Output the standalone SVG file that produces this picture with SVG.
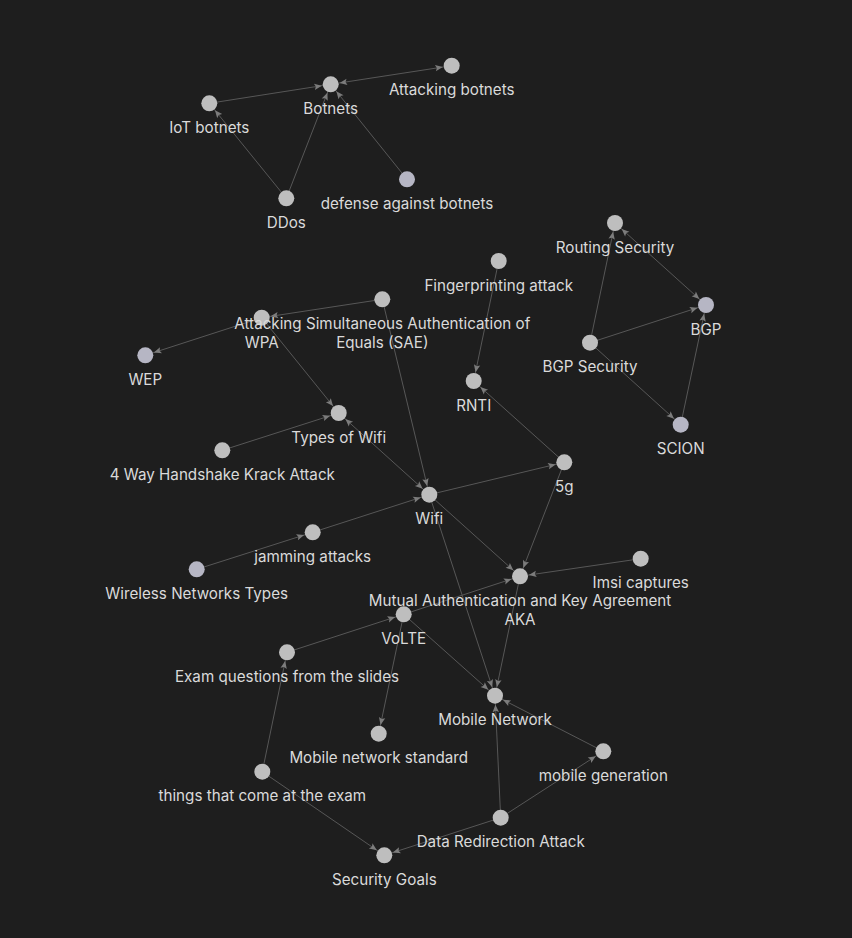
<svg xmlns="http://www.w3.org/2000/svg" width="852" height="938" viewBox="0 0 852 938">
  <style>
    .bg { fill: #1e1e1e; }
    .e { stroke: #575757; stroke-width: 1; fill: none; marker-end: url(#arr); }
    .b { marker-start: url(#arr); }
    .n circle { fill: #bebebe; }
    .n.alt circle { fill: #b6b6c4; }
    .n text { fill: #dadada; font-family: Inter, "Noto Sans", "DejaVu Sans", sans-serif; font-size: 15.2px; text-anchor: middle; }
  </style>
  <defs>
    <!-- arrowhead stops short of the target circle (r = 8) -->
    <marker id="arr" viewBox="0 0 20 10" refX="19" refY="5" markerWidth="20" markerHeight="10" markerUnits="userSpaceOnUse" orient="auto-start-reverse">
      <path d="M2.5,1.8 L10,5 L2.5,8.2 L4,5 Z" fill="#7c7c7c"/>
    </marker>
  </defs>
  <rect class="bg" x="0" y="0" width="852" height="938"/>

  <g id="edges">
    <line class="e" x1="209.3" y1="103.3" x2="330.7" y2="84.3"/>
    <line class="e b" x1="330.7" y1="84.3" x2="451.7" y2="65.7"/>
    <line class="e" x1="286.3" y1="198.3" x2="209.3" y2="103.3"/>
    <line class="e" x1="286.3" y1="198.3" x2="330.7" y2="84.3"/>
    <line class="e" x1="407" y1="179.3" x2="330.7" y2="84.3"/>
    <line class="e" x1="590" y1="342.7" x2="615" y2="223"/>
    <line class="e b" x1="615" y1="223" x2="706" y2="305"/>
    <line class="e" x1="590" y1="342.7" x2="706" y2="305"/>
    <line class="e" x1="590" y1="342.7" x2="680.7" y2="424.7"/>
    <line class="e" x1="680.7" y1="424.7" x2="706" y2="305"/>
    <line class="e" x1="498.7" y1="261" x2="473.7" y2="381"/>
    <line class="e" x1="564.3" y1="462.3" x2="473.7" y2="381"/>
    <line class="e" x1="382.3" y1="299.3" x2="261.7" y2="317.7"/>
    <line class="e" x1="261.7" y1="317.7" x2="145.3" y2="355.3"/>
    <line class="e" x1="261.7" y1="317.7" x2="338.7" y2="413"/>
    <line class="e" x1="222.3" y1="450.3" x2="338.7" y2="413"/>
    <line class="e b" x1="338.7" y1="413" x2="429.3" y2="494.7"/>
    <line class="e" x1="382.3" y1="299.3" x2="429.3" y2="494.7"/>
    <line class="e" x1="312.7" y1="532.3" x2="429.3" y2="494.7"/>
    <line class="e" x1="196.7" y1="569.3" x2="312.7" y2="532.3"/>
    <line class="e" x1="429.3" y1="494.7" x2="564.3" y2="462.3"/>
    <line class="e" x1="429.3" y1="494.7" x2="520" y2="576.3"/>
    <line class="e" x1="429.3" y1="494.7" x2="495" y2="695.7"/>
    <line class="e" x1="564.3" y1="462.3" x2="520" y2="576.3"/>
    <line class="e" x1="640.7" y1="558.7" x2="520" y2="576.3"/>
    <line class="e" x1="403.7" y1="614.3" x2="520" y2="576.3"/>
    <line class="e" x1="520" y1="576.3" x2="495" y2="695.7"/>
    <line class="e" x1="403.7" y1="614.3" x2="495" y2="695.7"/>
    <line class="e" x1="403.7" y1="614.3" x2="378.7" y2="733.7"/>
    <line class="e" x1="287" y1="652.3" x2="403.7" y2="614.3"/>
    <line class="e" x1="262.3" y1="771.7" x2="287" y2="652.3"/>
    <line class="e" x1="262.3" y1="771.7" x2="384.3" y2="855.3"/>
    <line class="e" x1="500.7" y1="817.7" x2="384.3" y2="855.3"/>
    <line class="e" x1="500.7" y1="817.7" x2="495" y2="695.7"/>
    <line class="e" x1="500.7" y1="817.7" x2="603.3" y2="751.3"/>
    <line class="e" x1="603.3" y1="751.3" x2="495" y2="695.7"/>
  </g>

  <g id="botnets" class="n"><circle cx="330.7" cy="84.3" r="8"/><text x="330.7" y="113.8">Botnets</text></g>
  <g id="attacking-botnets" class="n"><circle cx="451.7" cy="65.7" r="8"/><text x="451.7" y="95.2">Attacking botnets</text></g>
  <g id="iot-botnets" class="n"><circle cx="209.3" cy="103.3" r="8"/><text x="209.3" y="132.8">IoT botnets</text></g>
  <g id="ddos" class="n"><circle cx="286.3" cy="198.3" r="8"/><text x="286.3" y="227.8">DDos</text></g>
  <g id="defense-against-botnets" class="n alt"><circle cx="407" cy="179.3" r="8"/><text x="407" y="208.8">defense against botnets</text></g>
  <g id="routing-security" class="n"><circle cx="615" cy="223" r="8"/><text x="615" y="252.5">Routing Security</text></g>
  <g id="bgp" class="n alt"><circle cx="706" cy="305" r="8"/><text x="706" y="334.5">BGP</text></g>
  <g id="bgp-security" class="n"><circle cx="590" cy="342.7" r="8"/><text x="590" y="372.2">BGP Security</text></g>
  <g id="scion" class="n alt"><circle cx="680.7" cy="424.7" r="8"/><text x="680.7" y="454.2">SCION</text></g>
  <g id="fingerprinting-attack" class="n"><circle cx="498.7" cy="261" r="8"/><text x="498.7" y="290.5">Fingerprinting attack</text></g>
  <g id="rnti" class="n"><circle cx="473.7" cy="381" r="8"/><text x="473.7" y="410.5">RNTI</text></g>
  <g id="wpa" class="n"><circle cx="261.7" cy="317.7" r="8"/><text x="261.7" y="347.5">WPA</text></g>
  <g id="attacking-sae" class="n"><circle cx="382.3" cy="299.3" r="8"/><text x="382.3" y="329"><tspan x="382.3">Attacking Simultaneous Authentication of</tspan><tspan x="382.3" dy="19">Equals (SAE)</tspan></text></g>
  <g id="wep" class="n alt"><circle cx="145.3" cy="355.3" r="8"/><text x="145.3" y="384.8">WEP</text></g>
  <g id="types-of-wifi" class="n"><circle cx="338.7" cy="413" r="8"/><text x="338.7" y="442.5">Types of Wifi</text></g>
  <g id="krack-attack" class="n"><circle cx="222.3" cy="450.3" r="8"/><text x="222.3" y="479.8">4 Way Handshake Krack Attack</text></g>
  <g id="wifi" class="n"><circle cx="429.3" cy="494.7" r="8"/><text x="429.3" y="524.2">Wifi</text></g>
  <g id="5g" class="n"><circle cx="564.3" cy="462.3" r="8"/><text x="564.3" y="491.8">5g</text></g>
  <g id="jamming-attacks" class="n"><circle cx="312.7" cy="532.3" r="8"/><text x="312.7" y="561.8">jamming attacks</text></g>
  <g id="wireless-networks-types" class="n alt"><circle cx="196.7" cy="569.3" r="8"/><text x="196.7" y="598.8">Wireless Networks Types</text></g>
  <g id="aka" class="n"><circle cx="520" cy="576.3" r="8"/><text x="520" y="605.8"><tspan x="520">Mutual Authentication and Key Agreement</tspan><tspan x="520" dy="19">AKA</tspan></text></g>
  <g id="imsi-captures" class="n"><circle cx="640.7" cy="558.7" r="8"/><text x="640.7" y="588.2">Imsi captures</text></g>
  <g id="volte" class="n"><circle cx="403.7" cy="614.3" r="8"/><text x="403.7" y="643.8">VoLTE</text></g>
  <g id="exam-questions" class="n"><circle cx="287" cy="652.3" r="8"/><text x="287" y="681.8">Exam questions from the slides</text></g>
  <g id="mobile-network" class="n"><circle cx="495" cy="695.7" r="8"/><text x="495" y="725.2">Mobile Network</text></g>
  <g id="mobile-network-standard" class="n"><circle cx="378.7" cy="733.7" r="8"/><text x="378.7" y="763.2">Mobile network standard</text></g>
  <g id="mobile-generation" class="n"><circle cx="603.3" cy="751.3" r="8"/><text x="603.3" y="780.8">mobile generation</text></g>
  <g id="exam-things" class="n"><circle cx="262.3" cy="771.7" r="8"/><text x="262.3" y="801.2">things that come at the exam</text></g>
  <g id="data-redirection-attack" class="n"><circle cx="500.7" cy="817.7" r="8"/><text x="500.7" y="847.2">Data Redirection Attack</text></g>
  <g id="security-goals" class="n"><circle cx="384.3" cy="855.3" r="8"/><text x="384.3" y="884.8">Security Goals</text></g>
</svg>
